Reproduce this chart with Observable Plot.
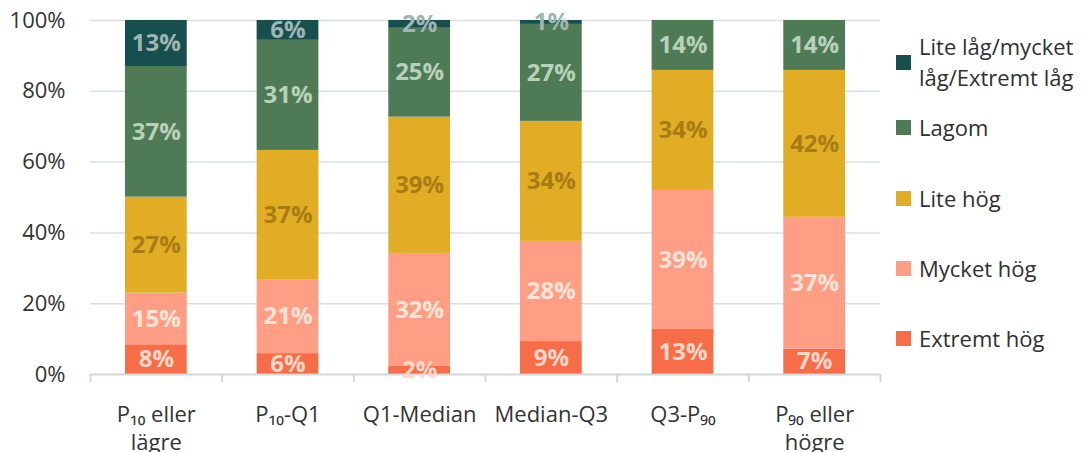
<!DOCTYPE html>
<html><head><meta charset="utf-8">
<script src="https://cdn.jsdelivr.net/npm/d3@7"></script>
<script src="https://cdn.jsdelivr.net/npm/@observablehq/plot@0.6"></script>
<style>
body{margin:0;background:#fff;font-family:"Open Sans",sans-serif;}
#wrap{position:relative;width:1083px;height:452px;overflow:hidden;}
.item{position:absolute;left:896px;display:flex;align-items:center;font-size:22px;color:#303030;line-height:31px;}
.sw{width:15px;height:15px;flex:none;margin-right:8px;}
.lbl{width:170px;}
</style></head><body><div id="wrap"></div>
<script>
const categories = ["P₁₀ eller lägre","P₁₀-Q1","Q1-Median","Median-Q3","Q3-P₉₀","P₉₀ eller högre"];
const tickLabels = ["P₁₀ eller\nlägre","P₁₀-Q1","Q1-Median","Median-Q3","Q3-P₉₀","P₉₀ eller\nhögre"];
const seriesNames = ["Extremt hög","Mycket hög","Lite hög","Lagom","Lite låg/mycket låg/Extremt låg"];
const extremtHog = [8.4, 5.9, 2.3, 9.3, 12.7, 7.2];
const mycketHog  = [14.6, 20.9, 31.9, 28.3, 39.3, 37.2];
const liteHog    = [27.1, 36.5, 38.5, 33.9, 33.9, 41.5];
const lagom      = [36.9, 31.1, 25.1, 27.4, 14.1, 14.1];
const liteLag    = [13.0, 5.6, 2.2, 1.1, 0, 0];
const yTicks = [0, 20, 40, 60, 80, 100];
const colors = ["#f76d48","#ff9e84","#e1ad25","#4f7a56","#174f4f"];
const labelColors = ["#ffd8ca","#ffe4da","#a87c14","#b8d1b9","#9fb5b2"];

const seriesValues = [extremtHog, mycketHog, liteHog, lagom, liteLag];
const rows = [];
categories.forEach((c, i) => {
  let acc = 0;
  seriesValues.forEach((vals, s) => {
    const v = vals[i];
    rows.push({i, cat: c, series: seriesNames[s], s, value: v, y1: acc, y2: acc + v});
    acc += v;
  });
});

const half = 0.2345;
const chart = Plot.plot({
  width: 1083, height: 452,
  marginLeft: 90, marginRight: 203, marginTop: 20, marginBottom: 78,
  style: {fontFamily: "'Open Sans', sans-serif", background: "#fff"},
  x: {domain: [0, categories.length], axis: null},
  y: {domain: [0, 100], ticks: yTicks, tickFormat: d => d + "%", label: null},
  color: {domain: seriesNames, range: colors},
  marks: [
    Plot.ruleY(yTicks.filter(d => d > 0), {stroke: "#d9dfdf", strokeWidth: 1.5}),
    Plot.axisY(yTicks, {tickSize: 0, tickPadding: 25, fontSize: 22, fill: "#333", label: null, tickFormat: d => d + "%"}),
    Plot.rect(rows, {x1: d => d.i + 0.5 - half, x2: d => d.i + 0.5 + half, y1: "y1", y2: "y2", fill: "series"}),
    Plot.ruleY([0], {stroke: "#d0d8d8", strokeWidth: 2}),
    Plot.ruleX(d3.range(categories.length + 1), {y1: 0, y2: -2.3, stroke: "#d0d8d8", strokeWidth: 2}),
    Plot.text(rows.filter(d => d.value > 0.5), {
      x: d => d.i + 0.5, y: d => (d.y1 + d.y2) / 2,
      text: d => Math.round(d.value) + "%",
      fill: d => labelColors[d.s], fontSize: 24, fontWeight: "bold"
    }),
    Plot.text(tickLabels, {
      x: (d, i) => i + 0.5, y: 0, text: d => d,
      lineAnchor: "top", dy: 27, fontSize: 22, lineHeight: 1.3, fill: "#333"
    })
  ]
});
const wrap = document.getElementById("wrap");
wrap.appendChild(chart);

const legendCenters = [62, 127, 198, 268, 338];
[...seriesNames].reverse().forEach((name, k) => {
  const s = seriesNames.length - 1 - k;
  const div = document.createElement("div");
  div.className = "item";
  div.innerHTML = `<div class="sw" style="background:${colors[s]}"></div><div class="lbl">${name}</div>`;
  wrap.appendChild(div);
  const h = div.getBoundingClientRect().height;
  div.style.top = (legendCenters[k] - h / 2) + "px";
});
</script></body></html>
